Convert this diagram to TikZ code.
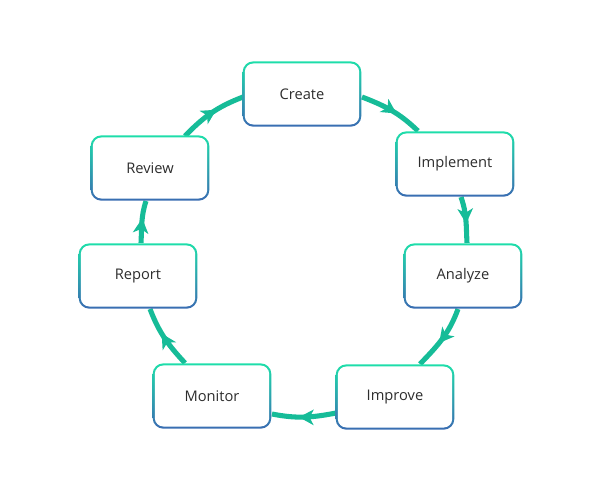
\documentclass[tikz,border=0pt]{standalone}
\usepackage{fontspec}
\setmainfont{Open Sans}
\usepackage{tikz}
\usetikzlibrary{calc, arrows.meta, decorations.markings, backgrounds}
\definecolor{cycleteal}{RGB}{22, 188, 152}
\definecolor{boxtop}{RGB}{30, 222, 170}
\definecolor{boxmid}{RGB}{36, 190, 165}
\definecolor{boxbot}{RGB}{58, 108, 178}
\definecolor{labelgray}{RGB}{45, 45, 45}

\begin{document}
\begin{tikzpicture}[
    x=0.75pt, y=-0.75pt,
    stage/.style={rectangle, rounded corners=8pt, minimum width=89pt, minimum height=49pt,
        top color=boxtop, middle color=boxmid, bottom color=boxbot,
        path picture={\fill[white, rounded corners=6.5pt]
            ([shift={(1.6pt,1.6pt)}]path picture bounding box.south west) rectangle
            ([shift={(-1.6pt,-1.6pt)}]path picture bounding box.north east);},
        font=\fontsize{11pt}{13pt}\selectfont, text=labelgray},
    flow/.style={cycleteal, line width=3.8pt, postaction={decorate},
        decoration={markings, mark=at position 0.58 with
            {\arrow{Stealth[length=11pt, width=11.5pt, inset=3pt]}}}}
]
    \useasboundingbox (0,0) rectangle (596,497);

    % Stages
    \node[stage] (create)    at (302,94)  {Create};
    \node[stage] (implement) at (455,164) {Implement};
    \node[stage] (analyze)   at (463,276) {Analyze};
    \node[stage] (improve)   at (395,397) {Improve};
    \node[stage] (monitor)   at (212,396) {Monitor};
    \node[stage] (report)    at (138,276) {Report};
    \node[stage] (review)    at (150,168) {Review};

    % Cycle
    \begin{scope}[on background layer]
    \foreach \a/\ax/\ay/\o/\b/\bx/\by/\i in {
        create/60/3/-21/implement/-37/-33/136,
        implement/6/33/-71/analyze/4/-33/93,
        analyze/-5/33/-110/improve/25/-33/46,
        improve/-59/16/191/monitor/60/18/-11,
        monitor/-27/-33/133/report/12/33/-69,
        report/3/-33/87/review/-4/33/-108,
        review/35/-32/46/create/-59/3/201} {
        \draw[flow] ($(\a)+(\ax,\ay)$) to[out=\o, in=\i] ($(\b)+(\bx,\by)$);
    }
    \end{scope}
\end{tikzpicture}
\end{document}
